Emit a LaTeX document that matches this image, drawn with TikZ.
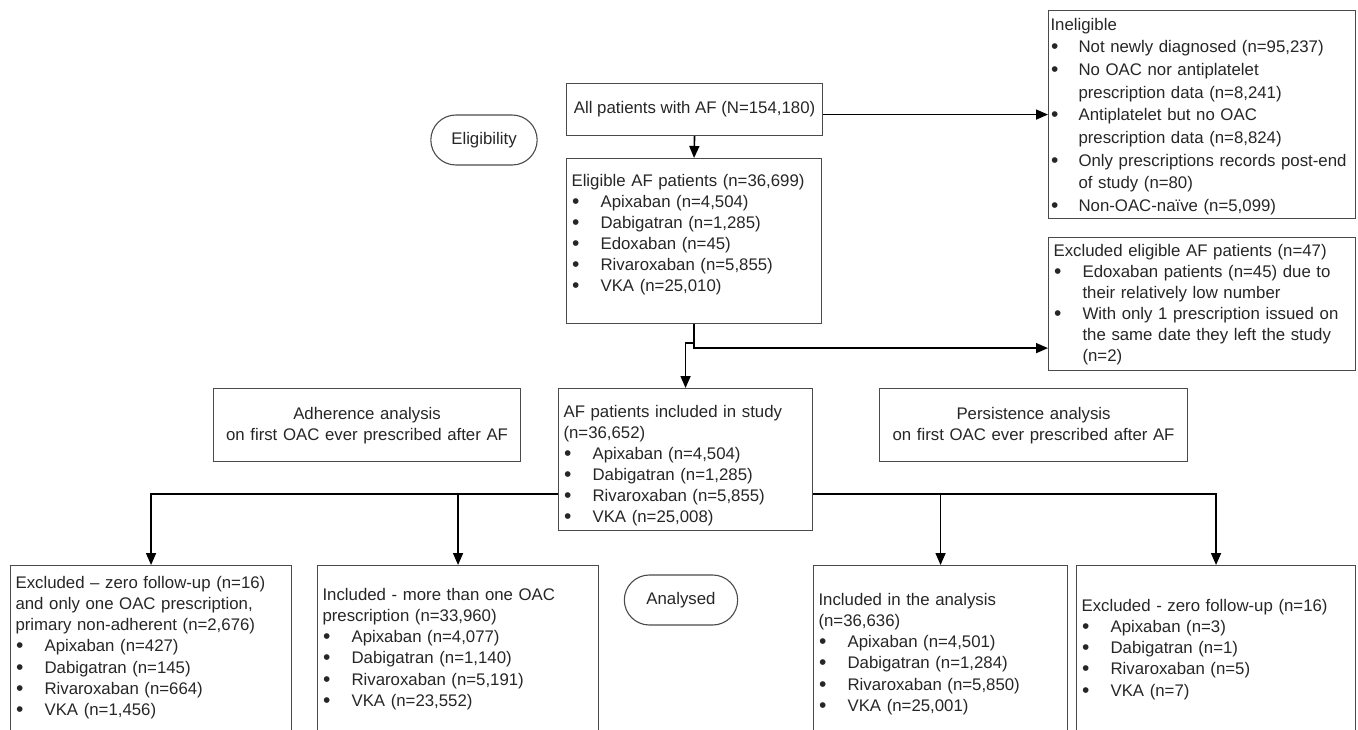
\documentclass[tikz,border=0pt]{standalone}
\usepackage{fontspec}
\setmainfont{Liberation Sans}
\usetikzlibrary{arrows.meta}
\usetikzlibrary{shapes.misc}
\definecolor{boxgray}{HTML}{4A4A4A}
\definecolor{txtgray}{HTML}{262626}
\newlength{\bulskip}
\setlength{\bulskip}{29pt}
\newcommand{\bul}[1]{\par\hangindent=\bulskip\hangafter=1\noindent
  \hbox to \bulskip{\hskip0.5pt\raisebox{-1pt}{\fontsize{21pt}{0pt}\selectfont\textbullet}\hss}#1\par}
\tikzset{
  box/.style={draw=boxgray, line width=1.1pt, anchor=north west, align=left,
    inner xsep=5pt, inner ysep=0pt, text=txtgray, font=\fontsize{16.8pt}{21.3pt}\selectfont},
  pill/.style={draw=boxgray, line width=1.1pt, rounded rectangle, minimum height=50pt,
    text=txtgray, font=\fontsize{16.8pt}{21.3pt}\selectfont},
  bulind/.style={execute at begin node={\setlength{\bulskip}{#1}}},
  arr/.style={line width=1.6pt, -{Triangle[length=12pt,width=10pt]}},
}

\begin{document}
\begin{tikzpicture}[x=1pt, y=-1pt]
  \useasboundingbox (0,0) rectangle (1358,729);
  \clip (0,0) rectangle (1358,729);

  % eligibility part
  \node[pill, minimum width=113pt] (elign) at (484,140) {Eligibility};
  \node[box, minimum width=256pt, minimum height=52pt] (all) at (566,83)
    {All patients with AF (N=154,180)};
  \node[box, text width=245pt, text height=27.5pt, text depth=137.5pt,
    font=\fontsize{16.8pt}{21pt}\selectfont] (elig) at (566,158)
    {Eligible AF patients (n=36,699)
     \bul{Apixaban (n=4,504)}
     \bul{Dabigatran (n=1,285)}
     \bul{Edoxaban (n=45)}
     \bul{Rivaroxaban (n=5,855)}
     \bul{VKA (n=25,010)}};
  \node[box, inner xsep=2pt, bulind=28pt, text width=303pt, text height=19.5pt, text depth=188.5pt,
    font=\fontsize{16.8pt}{22.7pt}\selectfont] (inel) at (1048,10)
    {Ineligible
     \bul{Not newly diagnosed (n=95,237)}
     \bul{No OAC nor antiplatelet\newline prescription data (n=8,241)}
     \bul{Antiplatelet but no OAC\newline prescription data (n=8,824)}
     \bul{Only prescriptions records post-end\newline of study (n=80)}
     \bul{Non-OAC-na\"ive (n=5,099)}};
  \node[box, text width=297pt, text height=18.5pt, text depth=114.5pt,
    font=\fontsize{16.8pt}{21pt}\selectfont] (excl) at (1048,237)
    {Excluded eligible AF patients (n=47)
     \bul{Edoxaban patients (n=45) due to\newline their relatively low number}
     \bul{With only 1 prescription issued on\newline the same date they left the study\newline (n=2)}};

  % analysis part
  \node[box, align=center, text width=297pt, text height=30.5pt, text depth=42.5pt] (adh) at (213,388)
    {Adherence analysis\\on first OAC ever prescribed after AF};
  \node[box, text width=244pt, text height=28.5pt, text depth=113.5pt,
    font=\fontsize{16.8pt}{21pt}\selectfont] (incl) at (558,388)
    {AF patients included in study\newline (n=36,652)
     \bul{Apixaban (n=4,504)}
     \bul{Dabigatran (n=1,285)}
     \bul{Rivaroxaban (n=5,855)}
     \bul{VKA (n=25,008)}};
  \node[box, align=center, text width=298pt, text height=30.5pt, text depth=42.5pt] (pers) at (879,388)
    {Persistence analysis\\on first OAC ever prescribed after AF};
  \node[pill, minimum width=120pt] (anal) at (681,600) {Analysed};

  \node[box, text width=271pt, text height=22.5pt, text depth=200pt] (b1) at (10,565)
    {Excluded -- zero follow-up (n=16)\newline and only one OAC prescription,\newline primary non-adherent (n=2,676)
     \bul{Apixaban (n=427)}
     \bul{Dabigatran (n=145)}
     \bul{Rivaroxaban (n=664)}
     \bul{VKA (n=1,456)}};
  \node[box, text width=271pt, text height=34.5pt, text depth=200pt] (b2) at (317,565)
    {Included - more than one OAC\newline prescription (n=33,960)
     \bul{Apixaban (n=4,077)}
     \bul{Dabigatran (n=1,140)}
     \bul{Rivaroxaban (n=5,191)}
     \bul{VKA (n=23,552)}};
  \node[box, text width=244pt, text height=39.5pt, text depth=200pt] (b3) at (813,565)
    {Included in the analysis\newline (n=36,636)
     \bul{Apixaban (n=4,501)}
     \bul{Dabigatran (n=1,284)}
     \bul{Rivaroxaban (n=5,850)}
     \bul{VKA (n=25,001)}};
  \node[box, text width=269pt, text height=45.5pt, text depth=200pt] (b4) at (1076,565)
    {Excluded - zero follow-up (n=16)
     \bul{Apixaban (n=3)}
     \bul{Dabigatran (n=1)}
     \bul{Rivaroxaban (n=5)}
     \bul{VKA (n=7)}};

  % connectors
  \coordinate (allout) at ([yshift=-5pt]all.east);
  \draw[arr] (allout) -- (allout -| inel.west);
  \draw[arr] (all.south) -- (elig.north);
  \coordinate (fork) at ([yshift=-24pt]elig.south);
  \coordinate (jog) at ([yshift=5pt]fork);
  \draw[arr] (elig.south) -- (fork) -- (fork -| excl.west);
  \draw[arr] (jog) -| (incl.north);
  \coordinate (lsplit) at (incl.west |- 0,494);
  \coordinate (rsplit) at (incl.east |- 0,494);
  \draw[arr] (lsplit) -| (b1.north);
  \draw[arr] (lsplit -| b2.north) -- (b2.north);
  \draw[arr] (rsplit) -| (b4.north);
  \draw[arr] (rsplit -| b3.north) -- (b3.north);
\end{tikzpicture}
\end{document}
